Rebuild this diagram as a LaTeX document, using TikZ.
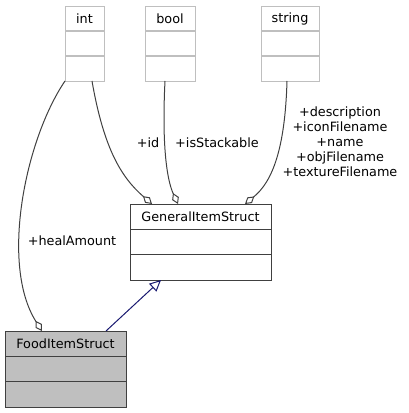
\documentclass[tikz,border=0pt]{standalone}
\usepackage{fontspec}
\setmainfont{DejaVu Sans}
\usetikzlibrary{arrows.meta}
\definecolor{lgray}{HTML}{BFBFBF}
\definecolor{dgray}{HTML}{404040}
\definecolor{navyblue}{HTML}{191970}
\tikzset{
  clsbox/.style={draw=#1, line width=0.8pt, inner sep=0pt, anchor=north west},
  ttl/.style={inner sep=0pt, font=\fontsize{9.6}{12}\selectfont},
  lbl/.style={inner sep=0pt, font=\fontsize{9.6}{11.25}\selectfont, align=center},
  assoc/.style={draw=dgray, line width=0.75pt, -{Diamond[open, length=9pt, width=5.5pt, line width=0.75pt]}},
  inherit/.style={draw=navyblue, line width=0.75pt, -{Triangle[open, length=8.5pt, width=8pt, line width=0.75pt]}},
}
% \umlbox{name}{x1}{y1}{x2}{y2}{border}{fill}{title}
\newcommand\umlbox[8]{%
  \pgfmathsetmacro\bw{(#4-#2)*0.75}%
  \pgfmathsetmacro\bh{(#5-#3)*0.75}%
  \pgfmathsetmacro\ya{#3+(#5-#3)/3}%
  \pgfmathsetmacro\yb{#3+2*(#5-#3)/3}%
  \pgfmathsetmacro\yt{#3+(#5-#3)/6}%
  \node[clsbox=#6, fill=#7, minimum width=\bw pt, minimum height=\bh pt] (#1) at (#2,#3) {};
  \draw[draw=#6, line width=0.8pt] (#2,\ya) -- (#4,\ya) (#2,\yb) -- (#4,\yb);
  \node[ttl] (#1-title) at ({(#2+#4)/2},\yt) {#8};
}
\begin{document}
\begin{tikzpicture}[x=0.75pt, y=-0.75pt]
\path[use as bounding box] (0,0) rectangle (409,413);
\umlbox{int}{65}{6}{104}{81}{lgray}{white}{int}
\umlbox{bool}{145}{6}{195}{81}{lgray}{white}{bool}
\umlbox{string}{261}{6}{319}{81}{lgray}{white}{string}
\umlbox{general}{130}{204}{271}{280}{dgray}{white}{GeneralItemStruct}
\umlbox{food}{5}{331}{126}{407}{dgray}{lgray}{FoodItemStruct}

\coordinate (intA) at (65,81);
\coordinate (intB) at (92,81);
\coordinate (boolA) at (165,81);
\coordinate (strA) at (287,81);
\coordinate (genA) at (152,204);
\coordinate (genB) at (178,204);
\coordinate (genC) at (245,204);
\coordinate (foodA) at (42,331);
\coordinate (foodB) at (106,331);
\coordinate (genD) at (161,280);

\draw[assoc] (intA) .. controls (25,140) and (0,265) .. (foodA);
\draw[assoc] (intB) .. controls (104,150) and (122,178) .. (genA);
\draw[assoc] (boolA) .. controls (162,140) and (166,178) .. (genB);
\draw[assoc] (strA) .. controls (285,150) and (272,182) .. (genC);
\draw[inherit] (foodB) -- (genD);

\node[lbl] (lid) at (148,143) {+id};
\node[lbl] (lstack) at (217,143) {+isStackable};
\node[lbl] (lstr) at (340,142) {+description\\+iconFilename\\+name\\+objFilename\\+textureFilename};
\node[lbl] (lheal) at (72,241) {+healAmount};
\end{tikzpicture}
\end{document}
